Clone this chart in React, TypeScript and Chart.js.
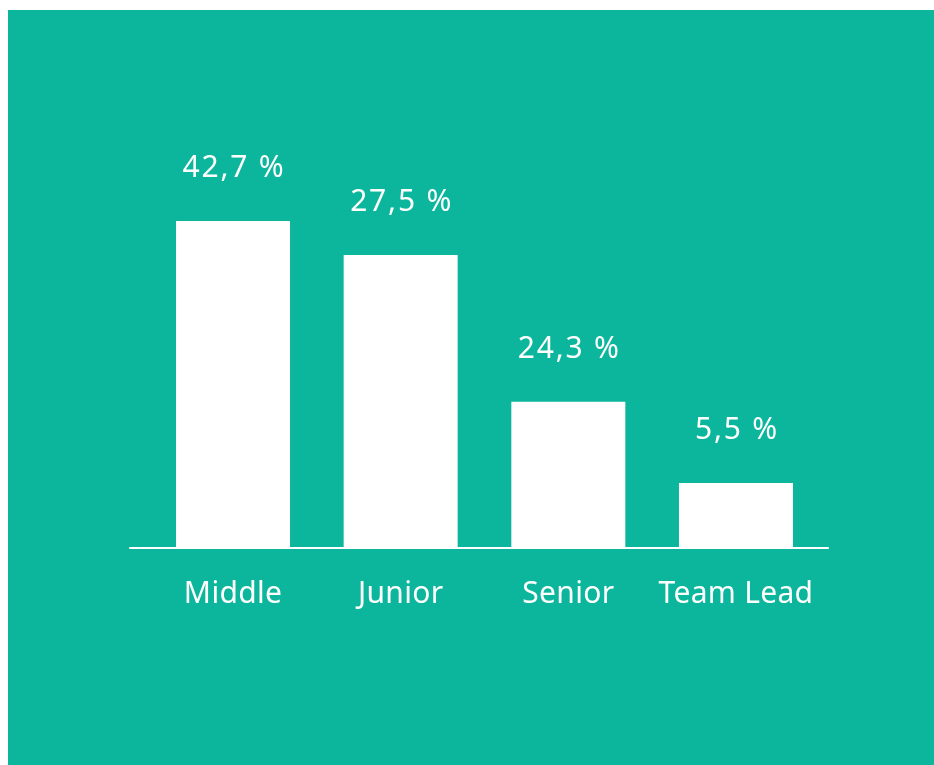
import React, { useEffect, useRef } from "react";
import { Chart, registerables } from "chart.js";

Chart.register(...registerables);

// Categories shown under the bars
const categories = ["Middle", "Junior", "Senior", "Team Lead"];
// Percent labels printed above the bars
const valueLabels = ["42,7 %", "27,5 %", "24,3 %", "5,5 %"];
// Bar heights as drawn in the source (0–100 scale; not proportional to the labels)
const barHeights = [81.5, 73.0, 36.3, 16.0];

const BG = "#0bb69c";
const FG = "#ffffff";
const FONT = "'Noto Sans', 'Open Sans', sans-serif";

const labelsPlugin = {
  id: "labelsPlugin",
  afterDatasetsDraw(chart: any) {
    const { ctx, chartArea } = chart;
    const meta = chart.getDatasetMeta(0);
    ctx.save();
    // baseline
    ctx.fillStyle = FG;
    ctx.fillRect(chartArea.left - 20, chartArea.bottom, chartArea.right - chartArea.left + 29, 2);
    ctx.font = `30px ${FONT}`;
    ctx.textAlign = "center";
    ctx.textBaseline = "alphabetic";
    meta.data.forEach((bar: any, i: number) => {
      ctx.letterSpacing = "1.8px";
      ctx.fillText(valueLabels[i], bar.x + 1, bar.y - 44);
      ctx.letterSpacing = "0.3px";
      ctx.fillText(categories[i], bar.x, chartArea.bottom + 56);
    });
    ctx.restore();
  },
};

export default function App() {
  const ref = useRef<HTMLCanvasElement>(null);
  useEffect(() => {
    if (!ref.current) return;
    const chart = new Chart(ref.current, {
      type: "bar",
      data: {
        labels: categories,
        datasets: [
          {
            data: barHeights,
            backgroundColor: FG,
            borderWidth: 0,
            categoryPercentage: 1,
            barPercentage: 0.68,
          },
        ],
      },
      options: {
        responsive: false,
        animation: false,
        maintainAspectRatio: false,
        layout: { padding: { top: 137, bottom: 218, left: 141.2, right: 114.2 } },
        plugins: { legend: { display: false }, tooltip: { enabled: false } },
        scales: {
          x: { display: false },
          y: { display: false, min: 0, max: 100 },
        },
      },
      plugins: [labelsPlugin],
    });
    return () => chart.destroy();
  }, []);
  return (
    <div
      style={{
        position: "fixed",
        left: 8,
        top: 10,
        width: 926,
        height: 755,
        background: BG,
      }}
    >
      <canvas ref={ref} width={926} height={755} style={{ display: "block" }} />
    </div>
  );
}
